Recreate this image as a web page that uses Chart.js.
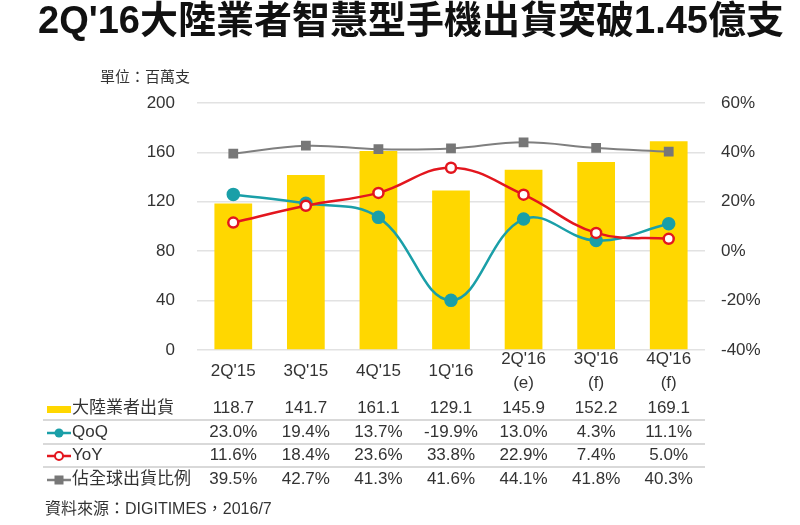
<!DOCTYPE html>
<html lang="zh-Hant">
<head>
  <meta charset="UTF-8">
  <title>2Q'16大陸業者智慧型手機出貨突破1.45億支</title>
  <script src="https://cdn.jsdelivr.net/npm/chart.js"></script>
  <style>
    body { margin: 0; background: #fff; }
    #lienzo { position: relative; width: 800px; height: 525px; overflow: hidden;
      font-family: "Liberation Sans", Arial, "Noto Sans CJK TC", sans-serif; color: #333; }
    #grafico { position: absolute; left: 0; top: 0; }
    .abs { position: absolute; white-space: nowrap; }
    #titulo { left: 38px; top: 1px; font-size: 38px; line-height: 38px; font-weight: bold; color: #111; }
    #unidad { left: 100px; top: 68px; font-size: 15px; line-height: 18px; }
    #fuente { left: 45px; top: 500px; font-size: 16px; line-height: 18px; }
    .cat { font-size: 17px; line-height: 24px; text-align: center; transform: translateX(-50%); }
    .val { font-size: 17px; line-height: 20px; transform: translateX(-50%); }
    .fila { font-size: 17px; line-height: 20px; }
    .sep { height: 2px; background: #d9d9d9; left: 43px; width: 662px; }
  </style>
</head>
<body>
<div id="lienzo">
  <canvas id="grafico" width="800" height="525"></canvas>
  <div class="abs" id="titulo">2Q'16大陸業者智慧型手機出貨突破1.45億支</div>
  <div class="abs" id="unidad">單位：百萬支</div>
  <div class="abs" id="fuente">資料來源：DIGITIMES，2016/7</div>
</div>

<script>
  // datos
  const categorias = [["2Q'15"], ["3Q'15"], ["4Q'15"], ["1Q'16"], ["2Q'16", "(e)"], ["3Q'16", "(f)"], ["4Q'16", "(f)"]];
  const envios = [118.7, 141.7, 161.1, 129.1, 145.9, 152.2, 169.1];
  const qoq = [23.0, 19.4, 13.7, -19.9, 13.0, 4.3, 11.1];
  const yoy = [11.6, 18.4, 23.6, 33.8, 22.9, 7.4, 5.0];
  const participacion = [39.5, 42.7, 41.3, 41.6, 44.1, 41.8, 40.3];
  const ticksIzq = [0, 40, 80, 120, 160, 200];
  const ticksDer = [-40, -20, 0, 20, 40, 60];

  const AMARILLO = '#FFD700';
  const TURQUESA = '#1A9FA8';
  const ROJO = '#E3161E';
  const GRIS = '#7F7F7F';

  const ctx = document.getElementById('grafico').getContext('2d');
  const grafico = new Chart(ctx, {
    type: 'bar',
    data: {
      labels: categorias,
      datasets: [
        {
          label: '大陸業者出貨',
          data: envios,
          backgroundColor: AMARILLO,
          yAxisID: 'y',
          barPercentage: 0.52,
          categoryPercentage: 1,
          order: 4
        },
        {
          type: 'line',
          label: '佔全球出貨比例',
          data: participacion,
          yAxisID: 'y1',
          borderColor: GRIS,
          borderWidth: 2,
          pointStyle: 'rect',
          pointRadius: 5.5,
          pointBackgroundColor: '#777',
          pointBorderColor: '#777',
          tension: 0.4,
          order: 3
        },
        {
          type: 'line',
          label: 'QoQ',
          data: qoq,
          yAxisID: 'y1',
          borderColor: TURQUESA,
          borderWidth: 2.5,
          pointRadius: 5.5,
          pointBackgroundColor: TURQUESA,
          pointBorderColor: TURQUESA,
          tension: 0.4,
          order: 2
        },
        {
          type: 'line',
          label: 'YoY',
          data: yoy,
          yAxisID: 'y1',
          borderColor: ROJO,
          borderWidth: 2.5,
          pointRadius: 5,
          pointBorderWidth: 2.5,
          pointBackgroundColor: '#fff',
          pointBorderColor: ROJO,
          tension: 0.4,
          order: 1
        }
      ]
    },
    options: {
      responsive: false,
      animation: false,
      layout: { padding: { top: 103, bottom: 175, left: 130, right: 15 } },
      plugins: { legend: { display: false }, tooltip: { enabled: false } },
      scales: {
        x: { display: false },
        y: {
          position: 'left',
          min: 0,
          max: 200,
          afterBuildTicks: (s) => { s.ticks = ticksIzq.map(v => ({ value: v })); },
          afterFit: (s) => { s.width = 67; },
          border: { display: false },
          grid: { color: '#e2e2e2', lineWidth: 1.5, drawTicks: false },
          ticks: { padding: 22, color: '#333', font: { family: 'Liberation Sans', size: 17 } }
        },
        y1: {
          position: 'right',
          min: -40,
          max: 60,
          afterBuildTicks: (s) => { s.ticks = ticksDer.map(v => ({ value: v })); },
          afterFit: (s) => { s.width = 80; },
          border: { display: false },
          grid: { drawOnChartArea: false, drawTicks: false },
          ticks: {
            padding: 16,
            color: '#333',
            font: { family: 'Liberation Sans', size: 17 },
            callback: (v) => v + '%'
          }
        }
      }
    }
  });

  // etiquetas y tabla de datos debajo del gráfico
  const lienzo = document.getElementById('lienzo');
  const escalaX = grafico.scales.x;

  function agregar(clase, texto, x, y) {
    const d = document.createElement('div');
    d.className = 'abs ' + clase;
    d.innerHTML = texto;
    d.style.left = x + 'px';
    d.style.top = y + 'px';
    lienzo.appendChild(d);
    return d;
  }

  categorias.forEach((c, i) => {
    const x = escalaX.getPixelForValue(i);
    agregar('cat', c.join('<br>'), x, 371 - c.length * 12);
  });

  const pct = (v) => v.toFixed(1) + '%';
  const filas = [
    { y: 408, valores: envios.map(v => v.toFixed(1)), nombre: '大陸業者出貨',
      icono: '<svg width="24" height="10"><rect x="0" y="2" width="24" height="7" fill="' + AMARILLO + '"/></svg>' },
    { y: 432, valores: qoq.map(pct), nombre: 'QoQ',
      icono: '<svg width="24" height="12"><line x1="0" y1="6" x2="24" y2="6" stroke="' + TURQUESA + '" stroke-width="2.5"/><circle cx="12" cy="6" r="4.5" fill="' + TURQUESA + '"/></svg>' },
    { y: 455, valores: yoy.map(pct), nombre: 'YoY',
      icono: '<svg width="24" height="12"><line x1="0" y1="6" x2="24" y2="6" stroke="' + ROJO + '" stroke-width="2.5"/><circle cx="12" cy="6" r="4" fill="#fff" stroke="' + ROJO + '" stroke-width="2"/></svg>' },
    { y: 479, valores: participacion.map(pct), nombre: '佔全球出貨比例',
      icono: '<svg width="24" height="12"><line x1="0" y1="6" x2="24" y2="6" stroke="' + GRIS + '" stroke-width="2.5"/><rect x="7.5" y="1.5" width="9" height="9" fill="#777"/></svg>' }
  ];

  filas.forEach((f, k) => {
    const d = agregar('fila', f.icono + f.nombre, 47, f.y - 10);
    d.firstChild.style.verticalAlign = 'middle';
    d.firstChild.style.marginRight = '1px';
    f.valores.forEach((v, i) => agregar('val', v, escalaX.getPixelForValue(i), f.y - 10));
    if (k < filas.length - 1) agregar('sep', '', 43, f.y + 11);
  });
</script>
</body>
</html>
